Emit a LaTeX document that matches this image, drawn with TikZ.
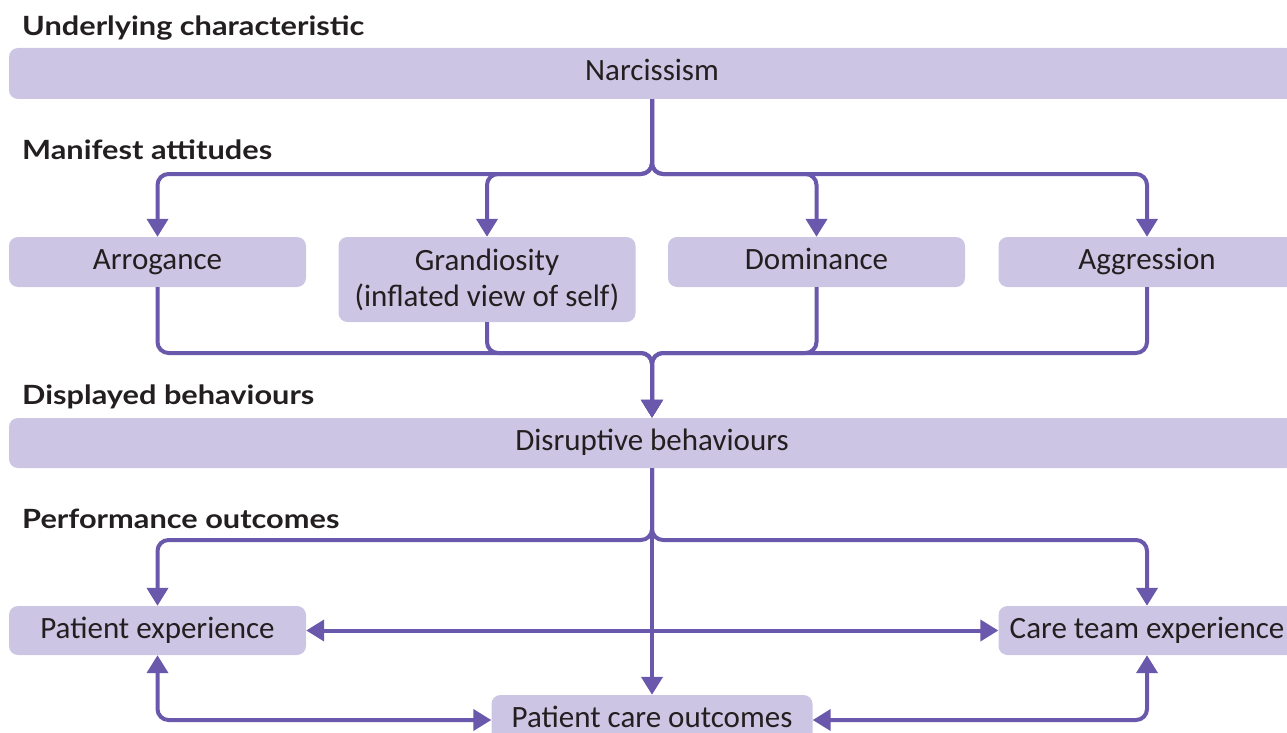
\documentclass[tikz,border=0pt]{standalone}
\usepackage{fontspec}
\setmainfont{Carlito}
\newfontfamily\headfont[FakeStretch=1.16]{Lato}
\usetikzlibrary{arrows.meta}
\definecolor{boxfill}{HTML}{CCC5E3}
\definecolor{linecol}{HTML}{6A58AC}
\definecolor{txt}{HTML}{231F20}
\begin{document}
\begin{tikzpicture}[x=1pt,y=-1pt,
 box/.style={fill=boxfill, rounded corners=9pt, minimum width=297pt, minimum height=50pt, inner sep=0pt, text=txt, font=\fontsize{31}{36}\selectfont, align=center},
 one/.style={text height=20pt, text depth=5pt},
 head/.style={anchor=base west, text=txt, font=\headfont\bfseries\fontsize{26.5}{30}\selectfont, inner sep=0pt},
 tip/.tip={Triangle[width=21pt,length=18pt,sharp]},
 conn/.style={draw=linecol, line width=4pt, rounded corners=11pt, -tip},
 dconn/.style={conn, tip-tip}]
\useasboundingbox (0,0) rectangle (1287,733);
\clip (0,0) rectangle (1287,733);

% headings
\node[head] (h1) at (22,36) {Underlying characteristic};
\node[head] (h2) at (22,159) {Manifest attitudes};
\node[head] (h3) at (22,404) {Displayed behaviours};
\node[head] (h4) at (22,528) {Performance outcomes};

% boxes
\node[box, one, minimum width=1286pt, minimum height=51pt] (narc) at (652,73.5) {Narcissism};
\node[box, one] (arro) at (157.5,262) {Arrogance};
\node[box, minimum height=85pt] (gran) at (487,279.5) {Grandiosity\\(inflated view of self)};
\node[box, one] (domi) at (816.5,262) {Dominance};
\node[box, one] (aggr) at (1147,262) {Aggression};
\node[box, one, minimum width=1286pt] (disr) at (652,443) {Disruptive behaviours};
\node[box, one, minimum height=49pt] (pexp) at (157.5,630.5) {Patient experience};
\node[box, one, minimum height=49pt] (cexp) at (1147,630.5) {Care team experience};
\node[box, one, minimum width=321pt] (pcare) at (652,720) {Patient care outcomes};

% junctions
\coordinate (s1) at (652,174);
\coordinate (m1) at (652,353);
\coordinate (s2) at (652,540);

% connectors
\foreach \t in {arro,gran,domi,aggr}
  \draw[conn] (narc.south) -- (s1) -| (\t.north);
\foreach \t in {arro,gran,domi,aggr}
  \draw[conn] (\t.south) |- (m1) -- (disr.north);
\draw[conn] (disr.south) -- (s2) -| (pexp.north);
\draw[conn] (disr.south) -- (s2) -| (cexp.north);
\draw[conn] (disr.south) -- (pcare.north);
\draw[dconn] (pexp.east) -- (cexp.west);
\draw[dconn] (pexp.south) |- (pcare.west);
\draw[dconn] (cexp.south) |- (pcare.east);
\end{tikzpicture}
\end{document}
